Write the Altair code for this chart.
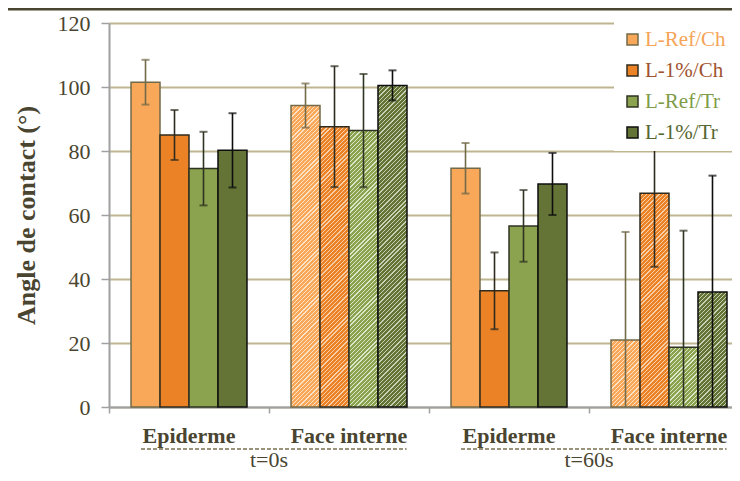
import altair as alt
import pandas as pd

# ---------------- data ----------------
categories = ["Epiderme|t=0s", "Face interne|t=0s", "Epiderme|t=60s", "Face interne|t=60s"]
hatched_categories = ["Face interne|t=0s", "Face interne|t=60s"]
series = ["L-Ref/Ch", "L-1%/Ch", "L-Ref/Tr", "L-1%/Tr"]

epiderme_t0 = [101.5, 85.0, 74.5, 80.2]
face_t0 = [94.2, 87.6, 86.4, 100.5]
epiderme_t60 = [74.6, 36.3, 56.6, 69.7]
face_t60 = [20.9, 66.8, 18.7, 35.9]

err_epiderme_t0 = [7.0, 7.8, 11.5, 11.6]
err_face_t0 = [6.9, 18.9, 17.7, 4.7]
err_epiderme_t60 = [7.9, 12.0, 11.2, 9.7]
err_face_t60 = [33.8, 23.0, 36.4, 36.4]

time_labels = ["t=0s", "t=60s"]
time_anchor = ["Face interne|t=0s", "Face interne|t=60s"]
pair_start = ["Epiderme|t=0s", "Epiderme|t=60s"]
pair_end = ["Face interne|t=0s", "Face interne|t=60s"]

# ---------------- styles ----------------
fill_colors = ["#F9A85A", "#EB8226", "#8BA24E", "#637436"]
stripe_colors = ["#FDE2C6", "#F8CFA8", "#DCE6C8", "#C9D1B4"]
edge_colors = ["#736A49", "#2E2B1E", "#2F3322", "#0E0E0E"]
legend_label_colors = ["#F5A458", "#A0522D", "#7E9C48", "#56672F"]
text_color = "#4A4530"
FONT = "Liberation Serif"

PLOT_W, PLOT_H = 623, 384
BAND = 160.0
Y_MAX = 120.0
OFFSET_PAD = 0.759
BAR_W = BAND / (len(series) + 2 * OFFSET_PAD)

rows = []
for cat, vals, errs in [
    (categories[0], epiderme_t0, err_epiderme_t0),
    (categories[1], face_t0, err_face_t0),
    (categories[2], epiderme_t60, err_epiderme_t60),
    (categories[3], face_t60, err_face_t60),
]:
    for s, v, e in zip(series, vals, errs):
        rows.append({"cat": cat, "series": s, "value": v, "err": e})
df = pd.DataFrame(rows)

x_scale = alt.Scale(domain=categories, range=[0, 4 * BAND], paddingInner=0, paddingOuter=0)
y_scale = alt.Scale(domain=[0, Y_MAX], nice=False)
off_scale = alt.Scale(domain=series, paddingInner=0, paddingOuter=OFFSET_PAD)
edge_scale = alt.Scale(domain=series, range=edge_colors)

x_axis = alt.Axis(
    title=None,
    labelExpr="split(datum.label, '|')[0]",
    labelFont=FONT,
    labelFontSize=22,
    labelFontWeight="bold",
    labelColor=text_color,
    labelPadding=12,
    labelAngle=0,
    bandPosition=0,
    tickSize=6,
    tickColor="#A0A0A0",
    tickWidth=1.5,
    domainColor="#A0A0A0",
    domainWidth=2,
    grid=False,
)
x_enc = alt.X("cat:N", scale=x_scale, sort=categories, axis=x_axis)
y_enc = alt.Y(
    "value:Q",
    scale=y_scale,
    axis=alt.Axis(
        title="Angle de contact (°)",
        values=[0, 20, 40, 60, 80, 100, 120],
        titleFont=FONT,
        titleFontSize=26,
        titleFontWeight="bold",
        titleColor=text_color,
        titleAngle=-90,
        titleX=-83,
        titleY=192,
        titleAlign="center",
        titleBaseline="middle",
        labelFont=FONT,
        labelFontSize=22,
        labelColor=text_color,
        labelPadding=11,
        tickSize=8,
        tickColor="#A0A0A0",
        tickWidth=1.5,
        domainColor="#A0A0A0",
        domainWidth=2,
        grid=True,
        gridColor="#BDB690",
        gridWidth=1.8,
    ),
)
off_enc = alt.XOffset("series:N", scale=off_scale, sort=series)

label_color_expr = " : ".join(
    [f"datum.label == '{s}' ? '{c}'" for s, c in zip(series[:-1], legend_label_colors[:-1])]
) + f" : '{legend_label_colors[-1]}'"

base = alt.Chart(df)

solid = base.transform_filter(
    alt.FieldOneOfPredicate(field="cat", oneOf=[c for c in categories if c not in hatched_categories])
).mark_bar(strokeWidth=1.5).encode(
    x=x_enc,
    y=y_enc,
    xOffset=off_enc,
    color=alt.Color(
        "series:N",
        scale=alt.Scale(domain=series, range=fill_colors),
        sort=series,
        legend=alt.Legend(
            title=None,
            orient="none",
            legendX=505,
            legendY=-2,
            fillColor="white",
            padding=8,
            rowPadding=9,
            symbolType="square",
            symbolSize=121,
            symbolStrokeColor="#4A4530",
            symbolStrokeWidth=1.5,
            labelFont=FONT,
            labelFontSize=21,
            labelOffset=2,
            labelLimit=300,
            labelColor=alt.ExprRef(label_color_expr),
            zindex=1,
        ),
    ),
    stroke=alt.Stroke("series:N", scale=edge_scale, legend=None),
)


def hatch(base_color, stripe_color, h, w=BAR_W, period=4.2, frac=0.3):
    n = max(1, int(round((w + h) / period)))
    a = (w + h) / (w * w + h * h)
    stops = []
    for k in range(n):
        s0 = k / n
        s1 = (k + 1 - frac) / n
        s2 = (k + 1) / n
        stops += [
            alt.GradientStop(offset=s0, color=base_color),
            alt.GradientStop(offset=s1, color=base_color),
            alt.GradientStop(offset=s1, color=stripe_color),
            alt.GradientStop(offset=s2, color=stripe_color),
        ]
    return alt.LinearGradient(gradient="linear", stops=stops, x1=0, y1=0, x2=a * w, y2=a * h)


hatched_layers = []
for cat in hatched_categories:
    sub = df[df["cat"] == cat]
    for i, s in enumerate(series):
        v = float(sub[sub["series"] == s]["value"].iloc[0])
        h_px = v / Y_MAX * PLOT_H
        layer = base.transform_filter(
            (alt.datum.cat == cat) & (alt.datum.series == s)
        ).mark_bar(
            fill=hatch(fill_colors[i], stripe_colors[i], h_px), strokeWidth=1.5
        ).encode(
            x=x_enc,
            y=y_enc,
            xOffset=off_enc,
            stroke=alt.Stroke("series:N", scale=edge_scale, legend=None),
        )
        hatched_layers.append(layer)

err_base = base.transform_calculate(
    lo="max(0, datum.value - datum.err)", hi="datum.value + datum.err"
)
err_rule = err_base.mark_rule(strokeWidth=1.6).encode(
    x=x_enc,
    xOffset=off_enc,
    y=alt.Y("lo:Q", scale=y_scale),
    y2="hi:Q",
    stroke=alt.Stroke("series:N", scale=edge_scale, legend=None),
)
cap_hi = err_base.mark_tick(orient="horizontal", size=8, thickness=2).encode(
    x=x_enc,
    xOffset=off_enc,
    y=alt.Y("hi:Q", scale=y_scale),
    fill=alt.Fill("series:N", scale=edge_scale, legend=None),
)
cap_lo = err_base.transform_filter("datum.value - datum.err > 0").mark_tick(
    orient="horizontal", size=8, thickness=2
).encode(
    x=x_enc,
    xOffset=off_enc,
    y=alt.Y("lo:Q", scale=y_scale),
    fill=alt.Fill("series:N", scale=edge_scale, legend=None),
)

time_df = pd.DataFrame({"cat": time_anchor, "label": time_labels})
time_text = alt.Chart(time_df).mark_text(
    font=FONT, fontSize=22, color=text_color, align="center", baseline="alphabetic"
).encode(
    x=alt.X("cat:N", scale=x_scale, sort=categories, bandPosition=0, axis=x_axis),
    y=alt.value(PLOT_H + 60),
    text="label:N",
)

pair_df = pd.DataFrame({"cat": pair_start, "end": pair_end})
pair_rule = alt.Chart(pair_df).mark_rule(
    color="#7A7050", strokeWidth=1.5, strokeDash=[4, 2]
).encode(
    x=alt.X("cat:N", scale=x_scale, sort=categories, bandPosition=0.2, axis=x_axis),
    x2=alt.X2("end:N", bandPosition=0.86),
    y=alt.value(PLOT_H + 42),
)

top_line = alt.Chart(pd.DataFrame({"k": [0]})).mark_rule(
    color="#4A4530", strokeWidth=3
).encode(
    x=alt.value(-110), x2=alt.value(PLOT_W + 20), y=alt.value(-14)
)

chart = alt.layer(
    solid, *hatched_layers, err_rule, cap_hi, cap_lo, pair_rule, time_text, top_line
).properties(
    width=PLOT_W,
    height=PLOT_H,
    padding={"left": 101, "top": 15, "right": 0, "bottom": 66},
    autosize=alt.AutoSizeParams(type="none"),
).configure_view(
    fill="#E2DFCC", stroke=None
).configure(
    background="white"
)

chart.save("out.html", embed_options={"renderer": "svg", "actions": False})
